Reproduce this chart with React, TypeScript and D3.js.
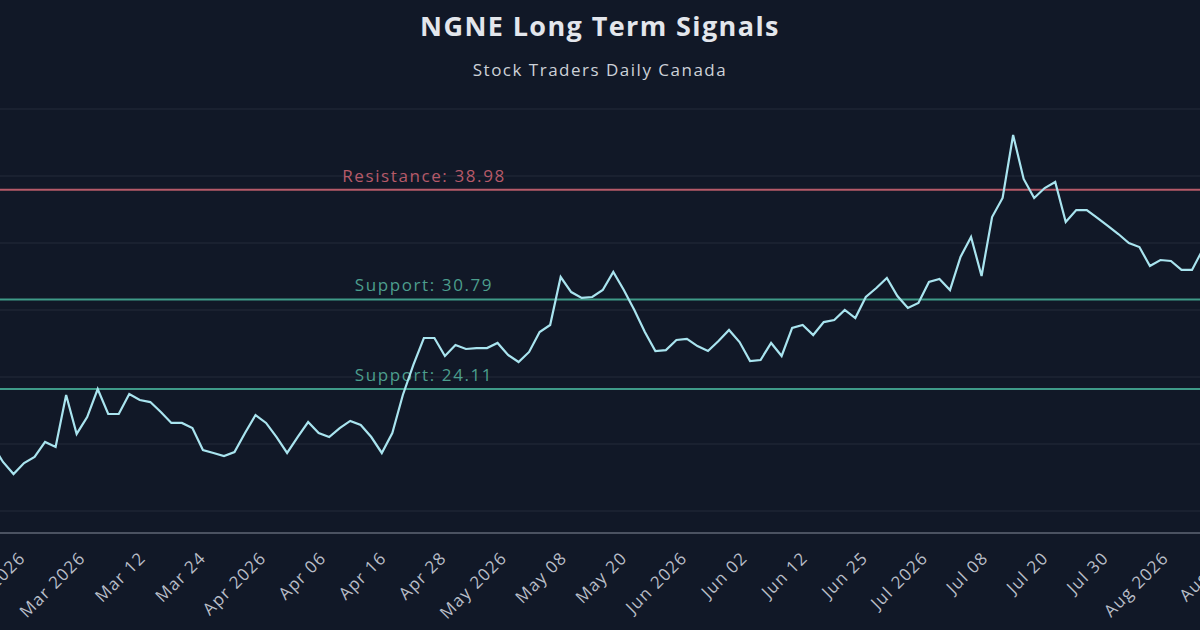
import * as d3 from "d3";
import React from "react";

// daily closes (first point sits just left of the crop)
const prices: number[] = [
  19.93, 18.66, 17.76, 18.58, 19.03, 20.15, 19.78, 23.66, 20.75, 22.01,
  24.1, 22.24, 22.24, 23.73, 23.28, 23.13, 22.39, 21.57, 21.57, 21.19,
  19.55, 19.33, 19.1, 19.4, 20.82, 22.16, 21.57, 20.52, 19.33, 20.52,
  21.64, 20.82, 20.52, 21.19, 21.72, 21.42, 20.52, 19.33, 20.82, 23.66,
  25.9, 27.91, 27.91, 26.57, 27.39, 27.09, 27.16, 27.16, 27.54, 26.64,
  26.12, 26.87, 28.36, 28.88, 32.46, 31.34, 30.9, 30.97, 31.49, 32.84,
  31.49, 30.0, 28.36, 26.94, 27.01, 27.76, 27.84, 27.31, 26.94, 27.69,
  28.51, 27.61, 26.19, 26.27, 27.54, 26.57, 28.66, 28.88, 28.13, 29.1,
  29.25, 30.0, 29.4, 30.97, 31.64, 32.39, 31.04, 30.15, 30.52, 32.09,
  32.31, 31.49, 33.96, 35.45, 32.54, 36.94, 38.36, 43.06, 39.78, 38.36,
  39.1, 39.55, 36.57, 37.46, 37.46, 36.87, 36.27, 35.67, 35.0, 34.7,
  33.28, 33.73, 33.66, 32.99, 32.99, 34.48,
];

// x-axis labels and the (fractional) data index each one sits on
const tickLabels: string[] = [
  "Feb 2026", "Mar 2026", "Mar 12", "Mar 24", "Apr 2026", "Apr 06", "Apr 16",
  "Apr 28", "May 2026", "May 08", "May 20", "Jun 2026", "Jun 02", "Jun 12",
  "Jun 25", "Jul 2026", "Jul 08", "Jul 20", "Jul 30", "Aug 2026", "Aug 12",
];
const tickIndex: number[] = [
  3.22, 8.94, 14.66, 20.38, 26.1, 31.82, 37.54, 43.25, 48.98, 54.7, 60.41,
  66.13, 71.85, 77.57, 83.29, 89.01, 94.72, 100.45, 106.17, 111.89, 117.6,
];

const gridValues: number[] = [15, 20, 25, 30, 35, 40, 45];

const levelNames: string[] = ["Resistance", "Support", "Support"];
const levelValues: number[] = [38.98, 30.79, 24.11];

const width = 1200;
const height = 630;
const font = "'Open Sans', 'DejaVu Sans', sans-serif";

const colors = {
  bg: "#111827",
  grid: "#242b3a",
  axis: "#4b5261",
  line: "#a9e4ef",
  title: "#e3e6ec",
  subtitle: "#cdd1d8",
  tick: "#b9bec8",
  resistance: "#b65a69",
  support: "#3f9a88",
  supportText: "#4c9e8d",
};

export default function App() {
  const x = d3.scaleLinear().domain([1, 114]).range([3, 1192]);
  const y = d3.scaleLinear().domain([15, 45]).range([511, 109]);
  const axisY = y(13.36);
  const labelX = 424;

  const line = d3
    .line<number>()
    .x((_, i) => x(i))
    .y((d) => y(d));

  return (
    <svg
      width={width}
      height={height}
      style={{ position: "absolute", left: 0, top: 0, fontFamily: font }}
    >
      <rect width={width} height={height} fill={colors.bg} />

      {/* horizontal grid */}
      {gridValues.map((v) => (
        <line
          key={v}
          x1={0}
          x2={width}
          y1={y(v)}
          y2={y(v)}
          stroke={colors.grid}
          strokeWidth={1.2}
        />
      ))}

      {/* x axis line */}
      <line
        x1={0}
        x2={width}
        y1={axisY}
        y2={axisY}
        stroke={colors.axis}
        strokeWidth={2}
      />

      {/* support / resistance levels */}
      {levelValues.map((v, i) => {
        const isRes = levelNames[i] === "Resistance";
        return (
          <g key={i}>
            <line
              x1={0}
              x2={width}
              y1={y(v)}
              y2={y(v)}
              stroke={isRes ? colors.resistance : colors.support}
              strokeWidth={2}
            />
            <text
              x={labelX}
              y={y(v) - 8}
              textAnchor="middle"
              fontSize={17}
              letterSpacing={1.6}
              fill={isRes ? colors.resistance : colors.supportText}
            >
              {`${levelNames[i]}: ${v.toFixed(2)}`}
            </text>
          </g>
        );
      })}

      {/* price line */}
      <path
        d={line(prices) ?? ""}
        fill="none"
        stroke={colors.line}
        strokeWidth={2.2}
      />

      {/* x tick labels, rotated */}
      {tickLabels.map((t, i) => (
        <text
          key={t}
          transform={`translate(${x(tickIndex[i])},${axisY + 26}) rotate(-45)`}
          textAnchor="end"
          fontSize={17}
          letterSpacing={1.2}
          fill={colors.tick}
        >
          {t}
        </text>
      ))}

      {/* titles */}
      <text
        x={width / 2}
        y={36}
        textAnchor="middle"
        fontSize={27}
        fontWeight={700}
        letterSpacing={1.4}
        fill={colors.title}
      >
        NGNE Long Term Signals
      </text>
      <text
        x={width / 2}
        y={76}
        textAnchor="middle"
        fontSize={17}
        letterSpacing={1.5}
        fill={colors.subtitle}
      >
        Stock Traders Daily Canada
      </text>
    </svg>
  );
}
